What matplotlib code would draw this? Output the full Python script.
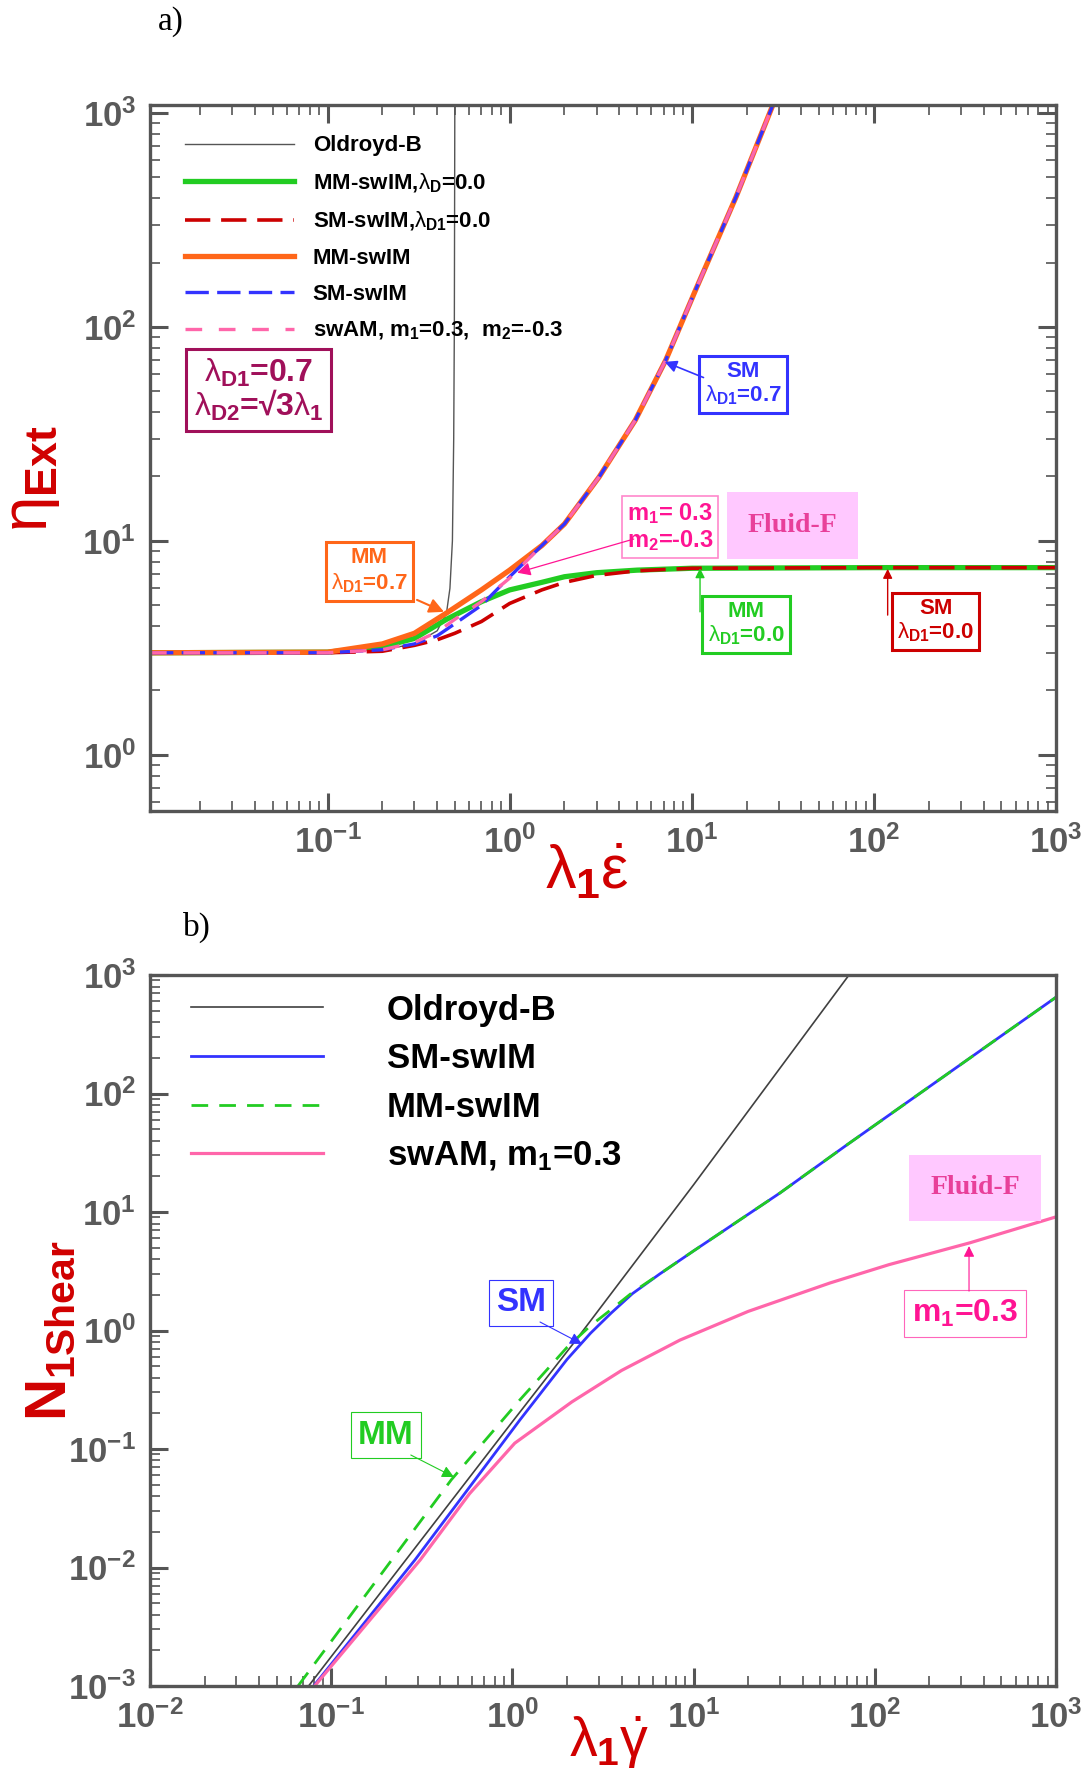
import numpy as np
import matplotlib
matplotlib.use("Agg")
import matplotlib.pyplot as plt
from matplotlib.ticker import LogLocator, FuncFormatter, NullFormatter

plt.rcParams['font.family'] = ['Liberation Sans', 'DejaVu Sans']
plt.rcParams['mathtext.fontset'] = 'custom'
plt.rcParams['mathtext.rm'] = 'Liberation Sans'
plt.rcParams['mathtext.it'] = 'Liberation Sans'
plt.rcParams['mathtext.bf'] = 'Liberation Sans:bold'

# ---------------- panel a) extensional viscosity ----------------
oldb_x = [0.0106, 0.1, 0.2, 0.3, 0.4, 0.45, 0.47, 0.485, 0.493, 0.497, 0.5]
oldb_y = [3.0, 3.02, 3.1, 3.3, 3.8, 4.6, 6.0, 10.0, 30.0, 100.0, 1100.0]

mm0_x = [0.0106, 0.1, 0.2, 0.3, 0.45, 0.7, 1.0, 1.5, 2.0, 3.0, 5.0, 10.0, 100.0, 1000.0]
mm0_y = [3.0, 3.02, 3.2, 3.5, 4.3, 5.2, 5.9, 6.4, 6.8, 7.1, 7.3, 7.45, 7.5, 7.5]

sm0_x = [0.0106, 0.1, 0.2, 0.3, 0.4, 0.5, 0.7, 1.0, 1.5, 2.0, 3.0, 5.0, 10.0, 100.0, 1000.0]
sm0_y = [3.0, 3.0, 3.05, 3.25, 3.45, 3.7, 4.2, 5.1, 5.9, 6.4, 6.9, 7.25, 7.45, 7.5, 7.5]

mm7_x = [0.0106, 0.1, 0.2, 0.3, 0.45, 0.7, 1.0, 1.5, 2.0, 3.1, 4.9, 7.2, 10.5, 17.5, 28.0]
mm7_y = [3.0, 3.02, 3.3, 3.7, 4.6, 5.9, 7.3, 9.5, 12.0, 19.9, 36.7, 70.0, 149.0, 405.0, 1100.0]

sm7_x = [0.0106, 0.1, 0.2, 0.3, 0.4, 0.5, 0.7, 1.0, 1.5, 2.0, 3.1, 4.9, 7.2, 10.5, 17.5, 28.0]
sm7_y = [3.0, 3.0, 3.1, 3.3, 3.6, 4.1, 5.0, 6.8, 9.5, 12.0, 19.9, 36.7, 70.0, 149.0, 405.0, 1100.0]

swam_a_x = [0.0106, 0.1, 0.2, 0.3, 0.4, 0.5, 0.7, 1.0, 1.5, 2.0, 3.1, 4.9, 7.2, 10.5, 17.5, 28.0]
swam_a_y = [3.0, 3.0, 3.1, 3.35, 3.75, 4.3, 5.2, 6.7, 9.5, 12.0, 19.9, 36.7, 70.0, 149.0, 405.0, 1100.0]

# ---------------- panel b) first normal stress difference ----------------
oldb2_x = [0.075, 1.0, 2.2, 10.0, 72.0]
oldb2_y = [0.001, 0.17, 0.8, 17.0, 1000.0]

smb_x = [0.08, 0.29, 1.1, 2.0, 2.7, 3.5, 4.6, 6.5, 10.0, 30.0, 68.6, 1000.0]
smb_y = [0.001, 0.0116, 0.176, 0.57, 0.95, 1.4, 2.05, 3.0, 4.7, 14.5, 36.0, 650.0]

mmb_x = [0.0656, 0.46, 1.1, 2.0, 2.7, 3.5, 4.6, 6.5, 10.0, 30.0, 68.6, 1000.0]
mmb_y = [0.001, 0.055, 0.26, 0.72, 1.1, 1.5, 2.1, 3.0, 4.7, 14.5, 36.0, 650.0]

swam_b_x = [0.081, 0.31, 0.58, 1.03, 2.13, 4.0, 8.4, 20.0, 56.6, 120.0, 335.0, 1000.0]
swam_b_y = [0.001, 0.0116, 0.042, 0.112, 0.25, 0.46, 0.83, 1.45, 2.52, 3.6, 5.5, 9.1]

# decade ticks shown on each axis
a_xticks = [1e-1, 1e0, 1e1, 1e2, 1e3]
a_yticks = [1e0, 1e1, 1e2, 1e3]
b_xticks = [1e-2, 1e-1, 1e0, 1e1, 1e2, 1e3]
b_yticks = [1e-3, 1e-2, 1e-1, 1e0, 1e1, 1e2, 1e3]

GRAY = '#555555'
GREEN = '#22CC22'
DRED = '#CC0000'
ORANGE = '#FF6619'
BLUE = '#3333FF'
PINK = '#FF66AA'
MAGENTA = '#FF1493'
MAROON = '#A0105A'
LABRED = '#D00000'
TICKGRAY = '#5A5A5A'

fig = plt.figure(figsize=(10.83, 17.85), dpi=100)
ax1 = fig.add_axes([0.1385, 0.5457, 0.8366, 0.3955])
ax2 = fig.add_axes([0.1385, 0.05546, 0.8366, 0.3983])


def pow_fmt(v, pos):
    e = int(np.round(np.log10(v)))
    return r'$\mathbf{10^{%d}}$' % e


for ax in (ax1, ax2):
    ax.set_xscale('log')
    ax.set_yscale('log')
    for s in ax.spines.values():
        s.set_color(GRAY)
        s.set_linewidth(2.4)
    ax.xaxis.set_minor_locator(LogLocator(base=10, subs=np.arange(2, 10), numticks=100))
    ax.yaxis.set_minor_locator(LogLocator(base=10, subs=np.arange(2, 10), numticks=100))
    ax.xaxis.set_major_formatter(FuncFormatter(pow_fmt))
    ax.yaxis.set_major_formatter(FuncFormatter(pow_fmt))
    ax.xaxis.set_minor_formatter(NullFormatter())
    ax.yaxis.set_minor_formatter(NullFormatter())
    ax.tick_params(which='major', direction='in', length=13, width=2.2,
                   color=GRAY, labelsize=25, labelcolor=TICKGRAY, pad=10)
    ax.tick_params(which='minor', direction='in', length=7, width=1.2, color=GRAY)

ax1.set_xticks(a_xticks)
ax1.set_yticks(a_yticks)
ax2.set_xticks(b_xticks)
ax2.set_yticks(b_yticks)

ax1.tick_params(which='both', top=True, right=True)
ax2.tick_params(which='both', top=False, right=False)

# ---- panel a curves
ax1.plot(oldb_x, oldb_y, color=GRAY, lw=1.0, label='Oldroyd-B')
ax1.plot(mm0_x, mm0_y, color=GREEN, lw=3.8, label=r'MM-swIM,$\lambda_{\mathbf{D}}$=0.0')
ax1.plot(sm0_x, sm0_y, color=DRED, lw=2.6, dashes=(7, 3), label=r'SM-swIM,$\lambda_{\mathbf{D1}}$=0.0')
ax1.plot(mm7_x, mm7_y, color=ORANGE, lw=3.8, label='MM-swIM')
ax1.plot(sm7_x, sm7_y, color=BLUE, lw=2.4, dashes=(7, 2.5), label='SM-swIM')
ax1.plot(swam_a_x, swam_a_y, color=PINK, lw=2.4, dashes=(5, 5),
         label=r'swAM, m$_{\mathbf{1}}$=0.3,  m$_{\mathbf{2}}$=-0.3')

ax1.set_xlim(0.0106, 1000)
ax1.set_ylim(0.547, 1090)

ax1.legend(loc='upper left', bbox_to_anchor=(0.0386, 0.957), frameon=False,
           borderpad=0, borderaxespad=0, handlelength=4.9, handletextpad=0.85,
           labelspacing=0.68, prop={'family': 'Liberation Sans', 'weight': 'bold', 'size': 16})

ax1.text(0.0417, 50.8, '$\\lambda_{\\mathbf{D1}}$=0.7\n$\\lambda_{\\mathbf{D2}}$=\u221a3$\\lambda_{\\mathbf{1}}$',
         color=MAROON, fontsize=23, fontweight='bold', ha='center', va='center', linespacing=0.95,
         bbox=dict(boxstyle='square,pad=0.25', fc='white', ec=MAROON, lw=2.2))

# box annotations for panel a
ax1.text(19.1, 54.2, 'SM\n$\\lambda_{\\mathbf{D1}}$=0.7', color=BLUE, fontsize=16, fontweight='bold',
         ha='center', va='center', linespacing=1.1,
         bbox=dict(boxstyle='square,pad=0.25', fc='white', ec=BLUE, lw=2.2))
ax1.annotate('', xy=(7.1, 68.7), xytext=(11.6, 58.0),
             arrowprops=dict(arrowstyle='-|>', color=BLUE, lw=1.2, mutation_scale=18,
                             shrinkA=0, shrinkB=0))

ax1.text(7.6, 11.6, 'm$_{\\mathbf{1}}$= 0.3\nm$_{\\mathbf{2}}$=-0.3', color=MAGENTA, fontsize=17,
         fontweight='bold', ha='center', va='center', linespacing=1.15,
         bbox=dict(boxstyle='square,pad=0.2', fc='white', ec='#FF88CC', lw=1.2))
ax1.annotate('', xy=(1.1, 7.1), xytext=(4.8, 10.2),
             arrowprops=dict(arrowstyle='-|>', color=MAGENTA, lw=0.9, mutation_scale=20,
                             shrinkA=0, shrinkB=0))

ax1.text(35.6, 11.76, 'Fluid-F', color='#E8409A', fontsize=20, fontweight='bold',
         family='Liberation Serif', ha='center', va='center',
         bbox=dict(boxstyle='square,pad=0.75', fc='#FFC8FF', ec='none'))

ax1.text(0.170, 7.24, 'MM\n$\\lambda_{\\mathbf{D1}}$=0.7', color=ORANGE, fontsize=16, fontweight='bold',
         ha='center', va='center', linespacing=1.2,
         bbox=dict(boxstyle='square,pad=0.25', fc='white', ec=ORANGE, lw=2.2))
ax1.annotate('', xy=(0.436, 4.66), xytext=(0.31, 5.3),
             arrowprops=dict(arrowstyle='-|>', color=ORANGE, lw=1.5, mutation_scale=22,
                             shrinkA=0, shrinkB=0))

ax1.text(19.9, 4.09, 'MM\n$\\lambda_{\\mathbf{D1}}$=0.0', color=GREEN, fontsize=16, fontweight='bold',
         ha='center', va='center', linespacing=1.1,
         bbox=dict(boxstyle='square,pad=0.25', fc='white', ec=GREEN, lw=2.2))
ax1.annotate('', xy=(11.1, 7.45), xytext=(11.1, 4.66),
             arrowprops=dict(arrowstyle='-|>', color=GREEN, lw=1.0, mutation_scale=14,
                             shrinkA=0, shrinkB=0))

ax1.text(218, 4.23, 'SM\n$\\lambda_{\\mathbf{D1}}$=0.0', color=DRED, fontsize=16, fontweight='bold',
         ha='center', va='center', linespacing=1.1,
         bbox=dict(boxstyle='square,pad=0.25', fc='white', ec=DRED, lw=2.2))
ax1.annotate('', xy=(119, 7.4), xytext=(119, 4.5),
             arrowprops=dict(arrowstyle='-|>', color=DRED, lw=1.0, mutation_scale=14,
                             shrinkA=0, shrinkB=0))

ax1.set_ylabel(r'$\eta_{\mathbf{Ext}}$', fontsize=46, color=LABRED)
ax1.yaxis.set_label_coords(-0.097, 0.47)
ax1.set_xlabel(r'$\lambda_{\mathbf{1}}\dot{\varepsilon}$', fontsize=44, color=LABRED)
ax1.xaxis.set_label_coords(0.482, -0.045)

# ---- panel b curves
ax2.plot(oldb2_x, oldb2_y, color='#404040', lw=1.2, label='Oldroyd-B')
ax2.plot(smb_x, smb_y, color=BLUE, lw=2.0, label='SM-swIM')
ax2.plot(mmb_x, mmb_y, color=GREEN, lw=2.0, dashes=(6, 4), label='MM-swIM')
ax2.plot(swam_b_x, swam_b_y, color=PINK, lw=2.3, label=r'swAM, m$_{\mathbf{1}}$=0.3')

ax2.set_xlim(0.01, 1000)
ax2.set_ylim(0.001, 1000)

ax2.legend(loc='upper left', bbox_to_anchor=(0.045, 0.974), frameon=False,
           borderpad=0, borderaxespad=0, handlelength=3.8, handletextpad=1.85,
           labelspacing=0.45, prop={'family': 'Liberation Sans', 'weight': 'bold', 'size': 25})

ax2.text(1.115, 1.71, 'SM', color=BLUE, fontsize=24, fontweight='bold', ha='center', va='center',
         bbox=dict(boxstyle='square,pad=0.22', fc='white', ec=BLUE, lw=0.8))
ax2.annotate('', xy=(2.42, 0.77), xytext=(1.42, 1.18),
             arrowprops=dict(arrowstyle='-|>', color=BLUE, lw=0.8, mutation_scale=18,
                             shrinkA=0, shrinkB=0))

ax2.text(0.2, 0.131, 'MM', color=GREEN, fontsize=24, fontweight='bold', ha='center', va='center',
         bbox=dict(boxstyle='square,pad=0.22', fc='white', ec=GREEN, lw=0.8))
ax2.annotate('', xy=(0.476, 0.058), xytext=(0.275, 0.089),
             arrowprops=dict(arrowstyle='-|>', color=GREEN, lw=0.8, mutation_scale=18,
                             shrinkA=0, shrinkB=0))

ax2.text(315, 1.38, 'm$_{\\mathbf{1}}$=0.3', color=MAGENTA, fontsize=23, fontweight='bold',
         ha='center', va='center',
         bbox=dict(boxstyle='square,pad=0.25', fc='white', ec='#FF66BB', lw=0.8))
ax2.annotate('', xy=(331, 5.16), xytext=(331, 2.15),
             arrowprops=dict(arrowstyle='-|>', color=MAGENTA, lw=0.8, mutation_scale=16,
                             shrinkA=0, shrinkB=0))

ax2.text(357, 16.0, 'Fluid-F', color='#E8409A', fontsize=20, fontweight='bold',
         family='Liberation Serif', ha='center', va='center',
         bbox=dict(boxstyle='square,pad=0.75', fc='#FFC8FF', ec='none'))

ax2.set_ylabel(r'$\mathbf{N_{1Shear}}$', fontsize=42, color=LABRED)
ax2.yaxis.set_label_coords(-0.08, 0.5)
ax2.set_xlabel(r'$\lambda_{\mathbf{1}}\dot{\gamma}$', fontsize=40, color=LABRED)
ax2.xaxis.set_label_coords(0.507, -0.04)

fig.text(171 / 1083, 1 - 22 / 1785, 'a)', family='Liberation Serif', fontsize=24,
         ha='center', va='center')
fig.text(197 / 1083, 1 - 927 / 1785, 'b)', family='Liberation Serif', fontsize=24,
         ha='center', va='center')

fig.savefig('out.png', dpi=100)
